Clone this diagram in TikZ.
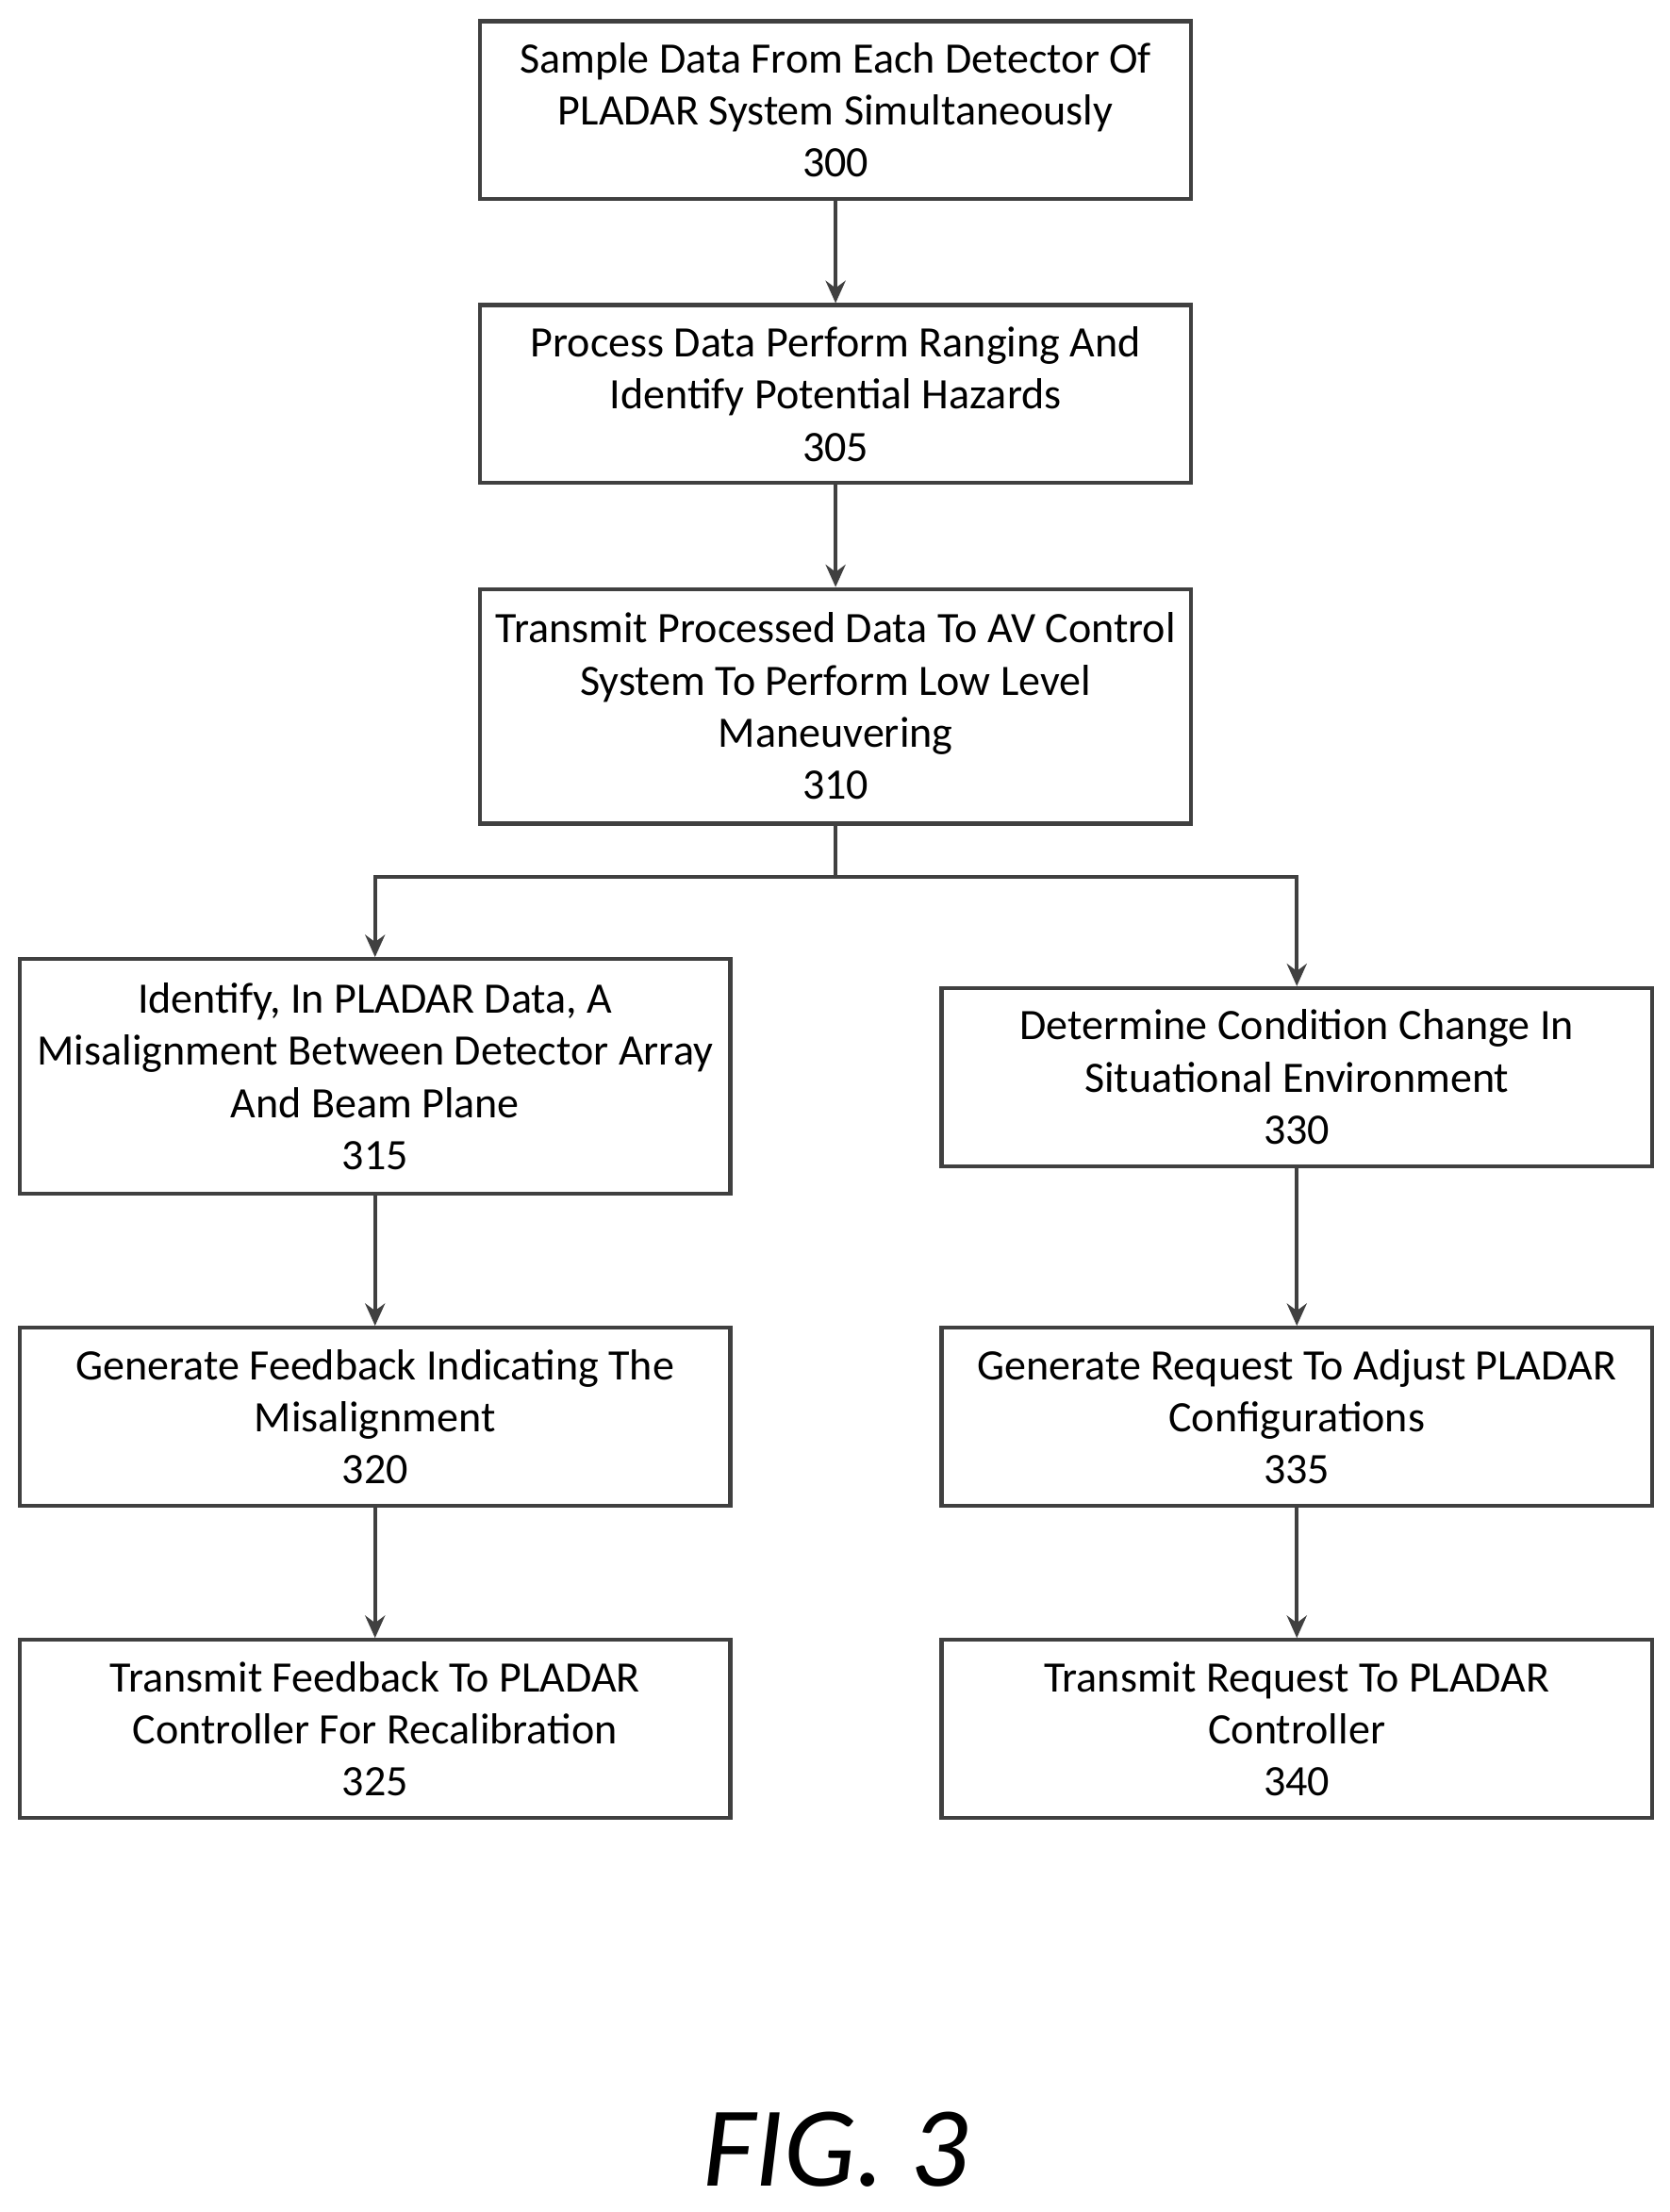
\documentclass[tikz,border=0pt]{standalone}
\usepackage{fontspec}
\setmainfont{Carlito}
\usetikzlibrary{arrows.meta}
\begin{document}
\begin{tikzpicture}[x=0.02cm,y=-0.02cm,
  box/.style={draw=black!75, line width=1.6pt, minimum width=503*0.02cm, align=center,
    font=\fontsize{17.5}{21}\selectfont, inner sep=0pt},
  flow/.style={draw=black!75, line width=1.6pt, -{Stealth[length=9pt,width=8pt]}}]
\useasboundingbox (0,0) rectangle (1182,1566);
\node[box, minimum height=126*0.02cm] (s300) at (591.5,78) {Sample Data From Each Detector Of\\PLADAR System Simultaneously\\300};
\node[box, minimum height=126*0.02cm] (s305) at (591.5,279) {Process Data Perform Ranging And\\Identify Potential Hazards\\305};
\node[box, minimum height=166*0.02cm] (s310) at (591.5,500) {Transmit Processed Data To AV Control\\System To Perform Low Level\\Maneuvering\\310};
\node[box, minimum height=166*0.02cm] (s315) at (265.5,762) {Identify, In PLADAR Data, A\\Misalignment Between Detector Array\\And Beam Plane\\315};
\node[box, minimum height=126*0.02cm] (s330) at (918,762.5) {Determine Condition Change In\\Situational Environment\\330};
\node[box, minimum height=126*0.02cm] (s320) at (265.5,1003) {Generate Feedback Indicating The\\Misalignment\\320};
\node[box, minimum height=126*0.02cm] (s335) at (918,1003) {Generate Request To Adjust PLADAR\\Configurations\\335};
\node[box, minimum height=126*0.02cm] (s325) at (265.5,1224) {Transmit Feedback To PLADAR\\Controller For Recalibration\\325};
\node[box, minimum height=126*0.02cm] (s340) at (918,1224) {Transmit Request To PLADAR\\Controller\\340};
\coordinate (split) at (591.5,621);
\draw[flow] (s300) -- (s305);
\draw[flow] (s305) -- (s310);
\draw[draw=black!75, line width=1.6pt] (s310) -- (split);
\draw[flow] (split) -| (s315);
\draw[flow] (split) -| (s330);
\draw[flow] (s315) -- (s320);
\draw[flow] (s320) -- (s325);
\draw[flow] (s330) -- (s335);
\draw[flow] (s335) -- (s340);
\node[font=\fontsize{46}{50}\selectfont\itshape] (fig) at (591.5,1522) {FIG. 3};
\end{tikzpicture}
\end{document}
